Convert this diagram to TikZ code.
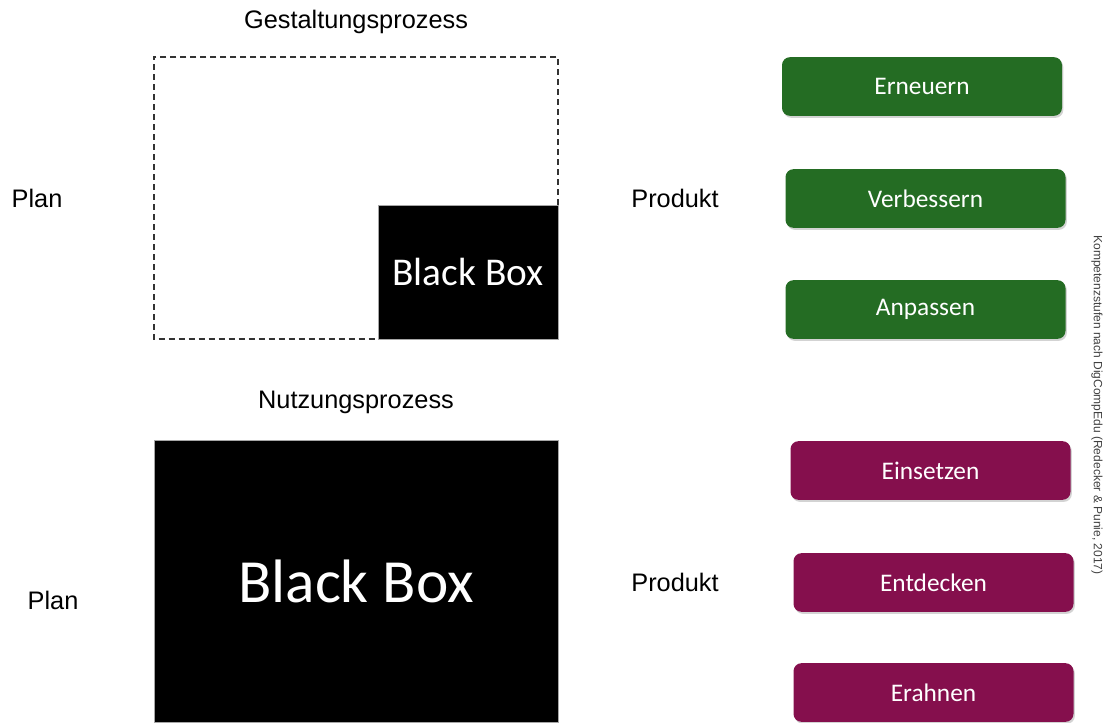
\documentclass[tikz,border=0pt]{standalone}
\usepackage{fontspec}
\setmainfont{Liberation Sans}
\newfontfamily\calibri{Carlito}
\usetikzlibrary{shadows}
\definecolor{stufegruen}{RGB}{36,108,35}
\definecolor{stufelila}{RGB}{133,15,77}
\begin{document}
\begin{tikzpicture}[x=0.75pt,y=-0.75pt]
  \tikzset{stufe/.style={rounded corners=6pt,minimum width=\len,minimum height=44pt,inner sep=0pt,
      text=white,font=\calibri\fontsize{19}{22}\selectfont,
      drop shadow={shadow xshift=1pt,shadow yshift=-1.5pt,opacity=0.35}},
    bbox/.style={fill=black,draw=black!35,line width=0.4pt,text=white,inner sep=0pt},
    lbl/.style={font=\fontsize{19}{22}\selectfont,inner sep=0pt}}
  \def\len{210pt}
  \useasboundingbox (0,0) rectangle (1103,722);
  %gestaltung
  \node[lbl] (GTITLE) at (356,22) {Gestaltungsprozess};
  \node[minimum width=303pt,minimum height=210.75pt,inner sep=0pt] (GBOX) at (356,197.5) {};
  \node[bbox,minimum width=135pt,minimum height=100.5pt,font=\calibri\fontsize{29.5}{34}\selectfont] (GBLACK) at (468,272) {Black Box};
  \draw[black!80,line width=1.4pt,dash pattern=on 4.5pt off 3pt] (GBLACK.north east) |- (GBOX.north west) |- (GBLACK.south west);
  \node[lbl] (GPLAN) at (37,198) {Plan};
  \node[lbl] (GPROD) at (675,198) {Produkt};
  %nutzung
  \node[lbl] (NTITLE) at (356,402) {Nutzungsprozess};
  \node[bbox,minimum width=303pt,minimum height=211.5pt,font=\calibri\fontsize{46}{52}\selectfont] (NBLACK) at (356,581) {Black Box};
  \node[lbl] (NPLAN) at (53,600) {Plan};
  \node[lbl] (NPROD) at (675,582) {Produkt};
  %stufen
  \node[stufe,fill=stufegruen] (ERNEUERN) at (922,86.5) {Erneuern};
  \node[stufe,fill=stufegruen] (VERBESSERN) at (925.5,198.5) {Verbessern};
  \node[stufe,fill=stufegruen] (ANPASSEN) at (925.5,309.5) {Anpassen};
  \node[stufe,fill=stufelila] (EINSETZEN) at (930.5,470.5) {Einsetzen};
  \node[stufe,fill=stufelila] (ENTDECKEN) at (933.5,582.5) {Entdecken};
  \node[stufe,fill=stufelila] (ERAHNEN) at (933.5,692.5) {Erahnen};
  %quelle
  \node[rotate=-90,font=\fontsize{9}{11}\selectfont,text=black!75,inner sep=0pt] (QUELLE) at (1097,405) {Kompetenzstufen nach DigCompEdu (Redecker \& Punie, 2017)};
\end{tikzpicture}
\end{document}
